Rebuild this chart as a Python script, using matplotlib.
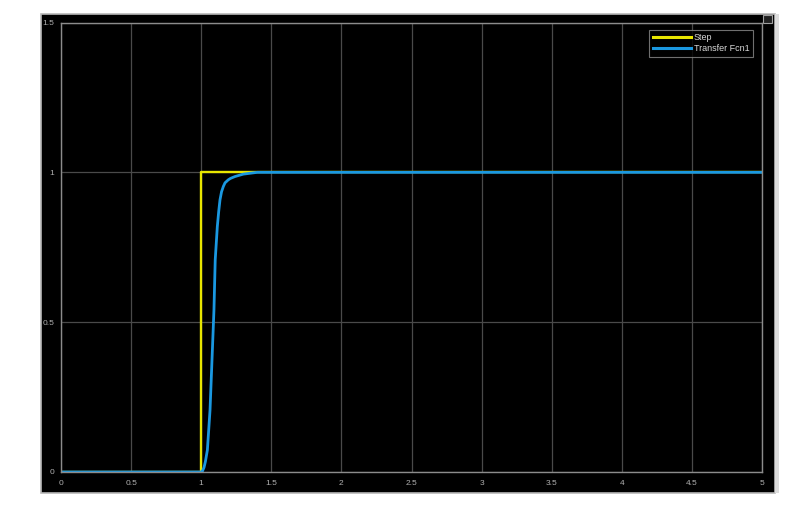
import matplotlib
matplotlib.use('Agg')
import matplotlib.pyplot as plt
import matplotlib.patches as mpatches

# Step input
step_t = [0.0, 1.0, 1.0, 5.0]
step_y = [0.0, 0.0, 1.0, 1.0]

# Transfer Fcn1 response
tf_t = [0.0, 1.0, 1.006, 1.02, 1.03, 1.044, 1.063, 1.077, 1.091, 1.10, 1.115,
        1.125, 1.134, 1.145, 1.158, 1.17, 1.193, 1.21, 1.241, 1.30, 1.35, 1.40, 5.0]
tf_y = [0.0, 0.0, 0.0, 0.015, 0.035, 0.073, 0.207, 0.374, 0.541, 0.708, 0.819,
        0.87, 0.908, 0.935, 0.953, 0.965, 0.975, 0.98, 0.986, 0.994, 0.997, 1.0, 1.0]

xticks = [0, 0.5, 1, 1.5, 2, 2.5, 3, 3.5, 4, 4.5, 5]
xticklabels = ['0', '0.5', '1', '1.5', '2', '2.5', '3', '3.5', '4', '4.5', '5']
yticks = [0, 0.5, 1, 1.5]
yticklabels = ['0', '0.5', '1', '1.5']

W, H = 803, 507
plt.rcParams['font.family'] = ['Liberation Sans', 'DejaVu Sans']

fig = plt.figure(figsize=(W / 100, H / 100), dpi=100)
fig.patch.set_facecolor('white')

# black scope window with light border
fig.patches.append(mpatches.Rectangle((41 / W, 1 - 493 / H), (775 - 41) / W, (493 - 14) / H,
                                      transform=fig.transFigure, facecolor='black',
                                      edgecolor='#b8b8b8', linewidth=1.2, zorder=-2))
# right side strip
fig.patches.append(mpatches.Rectangle((775 / W, 1 - 493 / H), 4 / W, (493 - 14) / H,
                                      transform=fig.transFigure, facecolor='#dcdcdc',
                                      edgecolor='none', zorder=-2))
# small icon top right
fig.patches.append(mpatches.Rectangle((763 / W, 1 - 23 / H), 9 / W, 8 / H,
                                      transform=fig.transFigure, facecolor='#202020',
                                      edgecolor='#a0a0a0', linewidth=0.8, zorder=-1))

ax = fig.add_axes([61 / W, 1 - 472 / H, (762 - 61) / W, (472 - 22.5) / H])
ax.set_facecolor('black')
ax.plot(step_t, step_y, color='#e8e600', linewidth=1.7, label='Step')
ax.plot(tf_t, tf_y, color='#1a98e0', linewidth=2.0, label='Transfer Fcn1',
        solid_joinstyle='round')

ax.set_xlim(0, 5)
ax.set_ylim(0, 1.5)
ax.set_xticks(xticks)
ax.set_xticklabels(xticklabels)
ax.set_yticks(yticks)
ax.set_yticklabels(yticklabels)
ax.tick_params(length=0, labelsize=6, colors='#b0b0b0')
ax.tick_params(axis='x', pad=6)
ax.tick_params(axis='y', pad=5)
ax.grid(True, color='#4a4a4a', linewidth=0.9)
ax.set_axisbelow(True)
for s in ax.spines.values():
    s.set_color('#8c8c8c')
    s.set_linewidth(1.0)

leg = ax.legend(loc='upper right', bbox_to_anchor=(0.987, 0.984), fontsize=6.5,
                frameon=True, fancybox=False, handlelength=4.2, handletextpad=0.3,
                borderpad=0.4, labelspacing=0.2, borderaxespad=0)
leg.get_frame().set_facecolor('black')
leg.get_frame().set_edgecolor('#8c8c8c')
leg.get_frame().set_linewidth(0.8)
for line in leg.get_lines():
    line.set_linewidth(2.2)
for txt in leg.get_texts():
    txt.set_color('#d8d8d8')

fig.savefig('out.png', dpi=100)
